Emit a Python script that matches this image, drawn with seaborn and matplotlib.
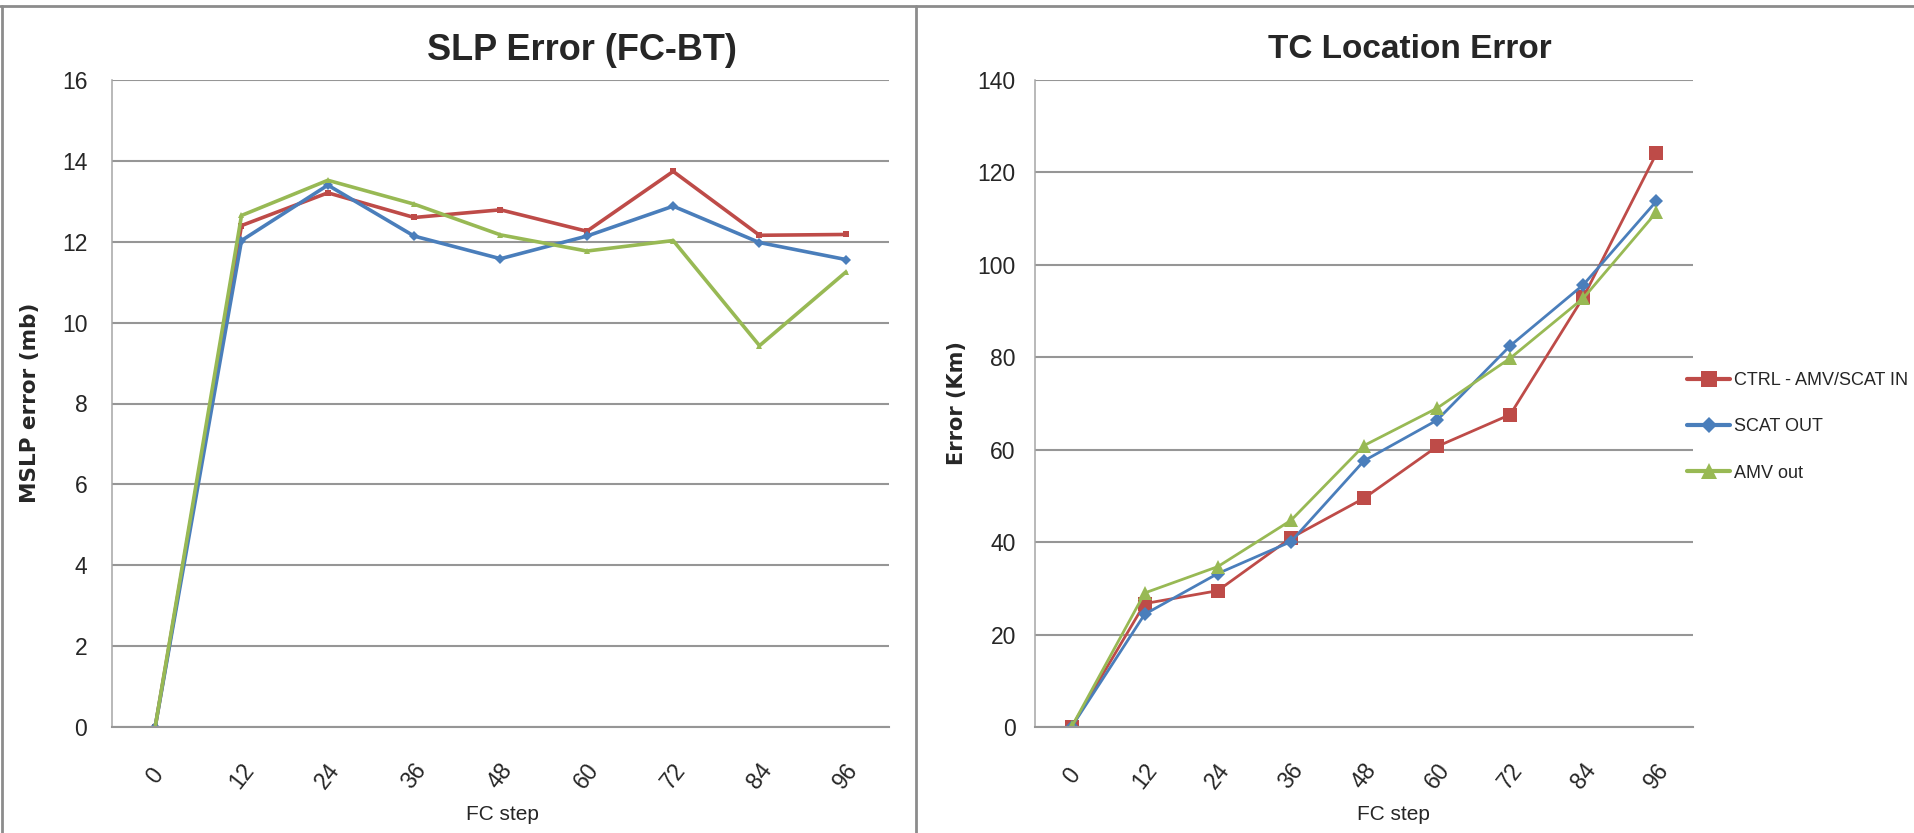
import matplotlib
matplotlib.use('Agg')
import matplotlib.pyplot as plt
import seaborn as sns
import pandas as pd
from matplotlib import font_manager
from matplotlib.font_manager import FontProperties
from matplotlib.lines import Line2D

# ---------------- data ----------------
steps = ['0', '12', '24', '36', '48', '60', '72', '84', '96']
series_names = ['CTRL - AMV/SCAT IN', 'SCAT OUT', 'AMV out']

slp_ctrl = [0, 12.40, 13.21, 12.60, 12.79, 12.26, 13.74, 12.16, 12.18]
slp_scat = [0, 12.03, 13.40, 12.14, 11.58, 12.14, 12.88, 11.98, 11.56]
slp_amv = [0, 12.65, 13.52, 12.93, 12.17, 11.77, 12.03, 9.43, 11.25]

loc_ctrl = [0, 26.7, 29.5, 40.9, 49.5, 60.7, 67.6, 93.0, 124.1]
loc_scat = [0, 24.4, 33.2, 40.1, 57.6, 66.4, 82.5, 95.7, 113.8]
loc_amv = [0, 29.0, 34.7, 44.7, 60.9, 69.0, 79.8, 92.8, 111.4]

slp_yticks = [0, 2, 4, 6, 8, 10, 12, 14, 16]
loc_yticks = [0, 20, 40, 60, 80, 100, 120, 140]

colors = ['#BE4B48', '#4A7EBB', '#98B954']
markers = ['s', 'D', '^']

# ---------------- style ----------------
sns.set_style('white')

BASE = 'Liberation Sans'
plt.rcParams['font.family'] = [BASE, 'DejaVu Sans']

W, H = 1915, 833
fig = plt.figure(figsize=(W / 100, H / 100), dpi=100)


def fx(px):
    return px / W


def fy(py):
    return 1 - py / H


def make_df(vals):
    rows = []
    for name, v in zip(series_names, vals):
        for i, (s, y) in enumerate(zip(steps, v)):
            rows.append({'pos': i, 'step': s, 'series': name, 'value': y})
    return pd.DataFrame(rows)


GRID = '#969696'
TICK_FS = 16.5


def style_axes(ax, yticks, ypad):
    ax.set_xlim(-0.5, len(steps) - 0.5)
    ax.set_ylim(yticks[0], yticks[-1])
    ax.set_yticks(yticks)
    ax.set_yticklabels([str(t) for t in yticks], fontsize=TICK_FS)
    ax.set_xticks(range(len(steps)))
    ax.set_xticklabels(steps, fontsize=TICK_FS)
    ax.set_xticks([i - 0.5 for i in range(len(steps) + 1)], minor=True)
    ax.tick_params(axis='x', which='major', length=0, pad=35)
    ax.tick_params(axis='x', which='minor', length=7.2, width=1.1, color=GRID, direction='out')
    ax.tick_params(axis='y', which='major', length=5.8, width=1.1, color=GRID, pad=ypad, direction='out')
    plt.setp(ax.get_xticklabels(), rotation=52, ha='center', va='center', rotation_mode='default')
    ax.yaxis.grid(True, color=GRID, linewidth=1.5)
    ax.xaxis.grid(False)
    ax.set_axisbelow(True)
    for s in ['top', 'right']:
        ax.spines[s].set_visible(False)
    ax.spines['left'].set_color('#A6A6A6')
    ax.spines['left'].set_linewidth(1.1)
    ax.spines['bottom'].set_color(GRID)
    ax.spines['bottom'].set_linewidth(1.5)
    ax.set_xlabel('')
    ax.set_ylabel('')


# ---------------- left chart ----------------
ax1 = fig.add_axes([fx(112), fy(727), fx(889 - 112), (727 - 80) / H])
df1 = make_df([slp_ctrl, slp_scat, slp_amv])
sns.lineplot(data=df1, x='pos', y='value', hue='series', style='series',
             hue_order=series_names, style_order=series_names,
             palette=dict(zip(series_names, colors)),
             markers=dict(zip(series_names, markers)), dashes=False,
             markersize=5, linewidth=2.6, markeredgewidth=0,
             legend=False, ax=ax1)
style_axes(ax1, slp_yticks, 12)

# ---------------- right chart ----------------
ax2 = fig.add_axes([fx(1035), fy(727), fx(1693 - 1035), (727 - 80) / H])
df2 = make_df([loc_ctrl, loc_scat, loc_amv])
sns.lineplot(data=df2, x='pos', y='value', hue='series', style='series',
             hue_order=series_names, style_order=series_names,
             palette=dict(zip(series_names, colors)),
             markers=dict(zip(series_names, markers)), dashes=False,
             markersize=10, linewidth=2.0, markeredgewidth=0,
             legend=False, ax=ax2)
style_axes(ax2, loc_yticks, 8)

msz = {'s': 10, 'D': 7.5, '^': 10}
for ln in ax2.get_lines():
    m = ln.get_marker()
    if m in msz:
        ln.set_markersize(msz[m])

# legend
LEG_FS = 13
handles = [Line2D([], [], color=c, marker=m, linewidth=3, markersize=msz[m] + 1, markeredgewidth=0)
           for c, m in zip(colors, markers)]
fig.legend(handles, series_names, loc='upper left', bbox_to_anchor=(fx(1687), fy(372)),
           bbox_transform=fig.transFigure, frameon=False, fontsize=LEG_FS,
           handlelength=31 / LEG_FS, handletextpad=0.2, labelspacing=1.62, borderpad=0,
           borderaxespad=0)

# ---------------- texts ----------------
fig.text(fx(582), fy(50), 'SLP Error (FC-BT)', fontsize=26, fontweight='bold', ha='center', va='center')
fig.text(fx(1410), fy(50), 'TC Location Error', fontsize=24, fontweight='bold', ha='center', va='center')
fig.text(fx(30), fy(403), 'MSLP error (mb)', fontsize=15.5, fontweight='bold', family='DejaVu Sans',
         rotation=90, ha='center', va='center')
fig.text(fx(957), fy(403), 'Error (Km)', fontsize=15, fontweight='bold', family='DejaVu Sans',
         rotation=90, ha='center', va='center')
fig.text(fx(502), fy(815), 'FC step', fontsize=15, ha='center', va='center')
fig.text(fx(1393), fy(815), 'FC step', fontsize=15, ha='center', va='center')

# ---------------- frame lines ----------------
fc = '#8C8C8C'
fig.add_artist(Line2D([0, 1], [fy(6), fy(6)], transform=fig.transFigure, color=fc, linewidth=2))
fig.add_artist(Line2D([fx(2), fx(2)], [0, fy(6)], transform=fig.transFigure, color=fc, linewidth=2))
fig.add_artist(Line2D([fx(916), fx(916)], [0, fy(6)], transform=fig.transFigure, color=fc, linewidth=2))

fig.savefig('out.png', dpi=100)
